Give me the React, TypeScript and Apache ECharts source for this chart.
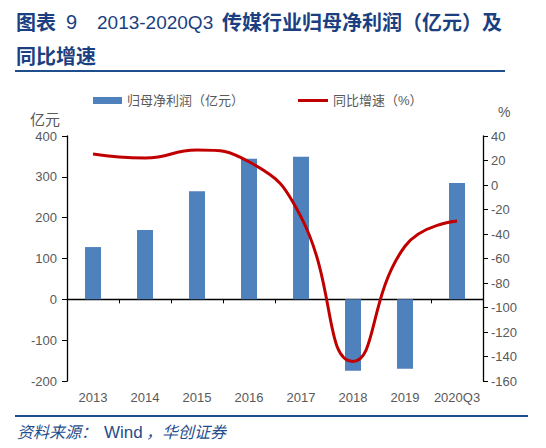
import React, { useEffect, useRef } from "react";
import * as echarts from "echarts";

const categories = ["2013", "2014", "2015", "2016", "2017", "2018", "2019", "2020Q3"];
const profitValues = [128, 170, 265, 344, 349, -175, -170, 285];
const growthValues = [25.3, 22, 28.6, 19, -26, -144, -50, -29.4];
const leftTicks = { min: -200, max: 400, interval: 100 };
const rightTicks = { min: -160, max: 40, interval: 20 };
const seriesNames = ["归母净利润（亿元）", "同比增速（%）"];

export default function App() {
  const ref = useRef<HTMLDivElement>(null);
  useEffect(() => {
    if (!ref.current) return;
    const chart = echarts.init(ref.current, null, { renderer: "svg" });
    const labelColor = "#595959";
    const font = "'Liberation Sans', Arial, 'Noto Sans CJK SC', sans-serif";
    const titleColor = "#1B3F80";
    const cjkTitle = "bold 20px 'Noto Sans CJK SC', sans-serif";
    const latinTitle = "20px 'Liberation Sans', Arial, sans-serif";
    const srcCjk = "italic 16px 'Noto Sans CJK SC', sans-serif";
    chart.setOption({
      animation: false,
      textStyle: { fontFamily: font },
      grid: { left: 67, right: 63, top: 136, bottom: 67, containLabel: false },
      legend: [
        {
          data: [{ name: seriesNames[0], icon: "rect" }],
          left: 88,
          top: 89,
          itemWidth: 29,
          itemHeight: 7,
          textStyle: { color: labelColor, fontSize: 13, fontFamily: font },
          selectedMode: false,
        },
        {
          data: [{ name: seriesNames[1], icon: "rect" }],
          left: 293,
          top: 89,
          itemWidth: 30,
          itemHeight: 3,
          textStyle: { color: labelColor, fontSize: 13, fontFamily: font },
          selectedMode: false,
        },
      ],
      xAxis: {
        type: "category",
        data: categories,
        axisLine: { onZero: true, onZeroAxisIndex: 0, lineStyle: { color: "#000", width: 1.3 } },
        axisTick: { show: true, length: 4, inside: false, lineStyle: { color: "#000" } },
        axisLabel: { interval: 0, color: labelColor, fontSize: 13, margin: 10, fontFamily: font },
        z: 1,
      },
      yAxis: [
        {
          type: "value",
          min: leftTicks.min,
          max: leftTicks.max,
          interval: leftTicks.interval,
          position: "left",
          axisLine: { show: true, onZero: false, lineStyle: { color: "#000", width: 1.3 } },
          axisTick: { show: true, length: 5, lineStyle: { color: "#000" } },
          axisLabel: { color: labelColor, fontSize: 13, margin: 10, fontFamily: font },
          splitLine: { show: false },
        },
        {
          type: "value",
          min: rightTicks.min,
          max: rightTicks.max,
          interval: rightTicks.interval,
          position: "right",
          axisLine: { show: true, onZero: false, lineStyle: { color: "#000", width: 1.3 } },
          axisTick: { show: true, length: 5, lineStyle: { color: "#000" } },
          axisLabel: { color: labelColor, fontSize: 13, margin: 8, fontFamily: font },
          splitLine: { show: false },
        },
      ],
      series: [
        {
          name: seriesNames[0],
          type: "bar",
          data: profitValues,
          yAxisIndex: 0,
          barWidth: 16,
          itemStyle: { color: "#4F81BD" },
          z: 2,
        },
        {
          name: seriesNames[1],
          type: "line",
          data: growthValues,
          yAxisIndex: 1,
          smooth: 0.5,
          symbol: "none",
          lineStyle: { color: "#C00000", width: 3 },
          itemStyle: { color: "#C00000" },
          z: 3,
        },
      ],
      graphic: [
        { type: "text", left: 16, top: 11, style: { text: "图表", fill: titleColor, font: cjkTitle } },
        { type: "text", left: 66, top: 12, style: { text: "9", fill: titleColor, font: latinTitle } },
        { type: "text", left: 97, top: 13, style: { text: "2013-2020Q3", fill: titleColor, font: "19px 'Liberation Sans', Arial, sans-serif" } },
        { type: "text", left: 222, top: 11, style: { text: "传媒行业归母净利润（亿元）及", fill: titleColor, font: cjkTitle } },
        { type: "text", left: 16, top: 45, style: { text: "同比增速", fill: titleColor, font: cjkTitle } },
        {
          type: "rect",
          shape: { x: 15, y: 70, width: 490, height: 2 },
          style: { fill: "#1F4E8C" },
        },
        {
          type: "text",
          left: 30,
          top: 111,
          style: { text: "亿元", fill: labelColor, font: "15px 'Noto Sans CJK SC', sans-serif" },
        },
        {
          type: "text",
          left: 498,
          top: 105,
          style: { text: "%", fill: labelColor, font: "14px 'Liberation Sans', sans-serif" },
        },
        {
          type: "rect",
          shape: { x: 15, y: 415, width: 513, height: 2 },
          style: { fill: "#1F4E8C" },
        },
        { type: "text", left: 17, top: 423, style: { text: "资料来源：", fill: "#1F4E8C", font: srcCjk } },
        { type: "text", left: 104, top: 424, style: { text: "Wind", fill: "#1F4E8C", font: "17px 'Liberation Sans', Arial, sans-serif" } },
        { type: "text", left: 146, top: 423, style: { text: "，华创证券", fill: "#1F4E8C", font: srcCjk } },
      ],
    });
    return () => chart.dispose();
  }, []);
  return <div ref={ref} style={{ width: 546, height: 448, position: "absolute", left: 0, top: 0 }} />;
}
